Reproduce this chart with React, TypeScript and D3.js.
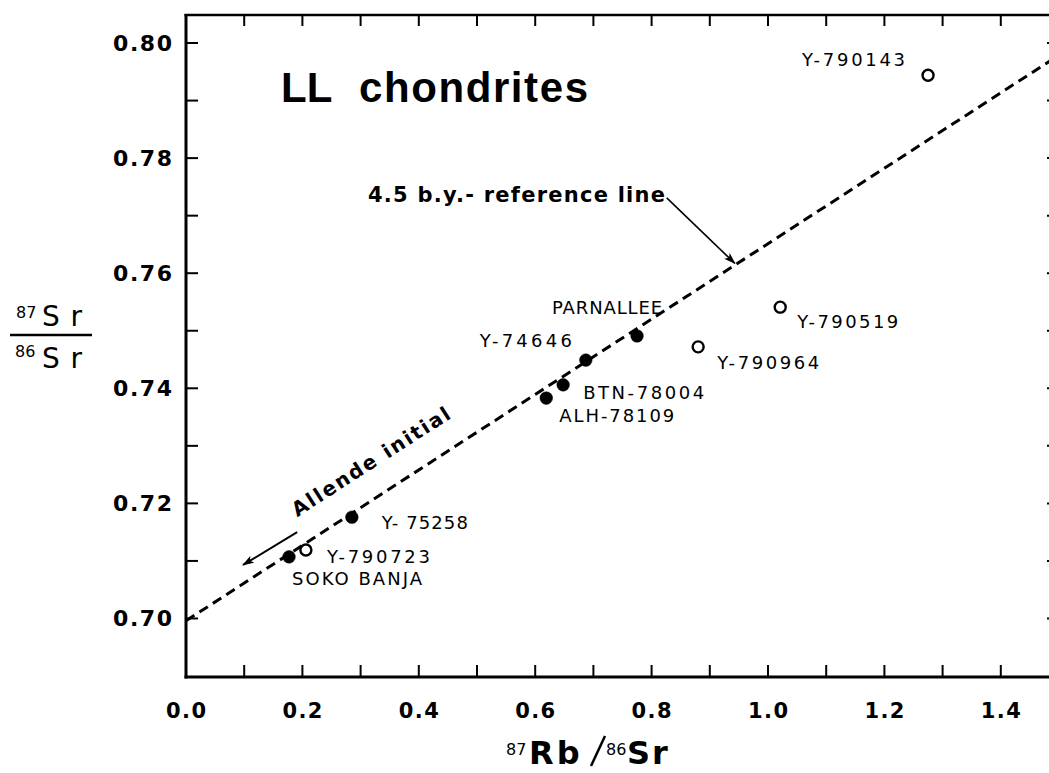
import { useEffect, useRef } from "react";
import * as d3 from "d3";

const W = 1049;
const H = 773;
const FONT = "'DejaVu Sans', 'Liberation Sans', Arial, sans-serif";
const TITLE_FONT = "'Liberation Sans', Arial, Helvetica, sans-serif";

// ==== DATA ====

// filled circles
const FILLED_NAMES = ["SOKO BANJA", "Y- 75258", "ALH-78109", "BTN-78004", "Y-74646", "PARNALLEE"];
const FILLED_RB = [0.177, 0.285, 0.619, 0.648, 0.687, 0.775];
const FILLED_SR = [0.7107, 0.7176, 0.7383, 0.7406, 0.7449, 0.7491];

// open circles
const OPEN_NAMES = ["Y-790723", "Y-790964", "Y-790519", "Y-790143"];
const OPEN_RB = [0.206, 0.88, 1.021, 1.275];
const OPEN_SR = [0.7119, 0.7472, 0.7541, 0.7944];

// 4.5 b.y. reference line end points
const REF_RB = [0, 1.5];
const REF_SR = [0.6996, 0.7979];

const X_TICKS = d3.range(0, 16).map((i) => i / 10);
const X_LABELS = ["0.0", "0.2", "0.4", "0.6", "0.8", "1.0", "1.2", "1.4"];
const Y_TICKS = d3.range(69, 81).map((i) => i / 100);
const Y_LABELS = ["0.70", "0.72", "0.74", "0.76", "0.78", "0.80"];

// label placement: [dx, dy, anchor, text width]
const LABEL_POS: Record<string, [number, number, string, number]> = {
  "SOKO BANJA": [3, 28, "start", 130],
  "Y- 75258": [30, 12, "start", 86],
  "ALH-78109": [13, 24, "start", 115],
  "BTN-78004": [20, 14, "start", 121],
  "Y-74646": [-14, -13, "end", 92],
  "PARNALLEE": [25, -22, "end", 110],
  "Y-790723": [21, 13, "start", 103],
  "Y-790964": [19, 22, "start", 102],
  "Y-790519": [17, 21, "start", 101],
  "Y-790143": [-23, -9, "end", 103],
};

export default function App() {
  const svgRef = useRef<SVGSVGElement | null>(null);

  useEffect(() => {
    const svg = d3.select(svgRef.current);
    svg.selectAll("*").remove();

    const margin = { top: 15, right: W - 1059, bottom: H - 677, left: 186 };
    const x = d3.scaleLinear().domain([0, 1.5]).range([margin.left, W - margin.right]);
    const y = d3.scaleLinear().domain([0.68983, 0.80487]).range([H - margin.bottom, margin.top]);

    const x0 = x(0);
    const x1 = x(1.5);
    const yb = y(0.68983);
    const yt = y(0.80487);

    svg.append("rect").attr("width", W).attr("height", H).attr("fill", "#fff");

    const defs = svg.append("defs");
    defs
      .append("marker")
      .attr("id", "arr")
      .attr("viewBox", "0 0 12 8")
      .attr("refX", 11)
      .attr("refY", 4)
      .attr("markerWidth", 12)
      .attr("markerHeight", 8)
      .attr("markerUnits", "userSpaceOnUse")
      .attr("orient", "auto")
      .append("path")
      .attr("d", "M0,0 L12,4 L0,8 L3,4 z")
      .attr("fill", "#000");
    defs
      .append("clipPath")
      .attr("id", "plotClip")
      .append("rect")
      .attr("x", x0)
      .attr("y", yt)
      .attr("width", x1 - x0)
      .attr("height", yb - yt);

    // frame
    const frame = svg.append("g").attr("stroke", "#000").attr("fill", "none");
    frame.append("line").attr("x1", x0).attr("x2", x0).attr("y1", yt - 1).attr("y2", yb + 1.5).attr("stroke-width", 3);
    frame.append("line").attr("x1", x0 - 1.5).attr("x2", x1).attr("y1", yb).attr("y2", yb).attr("stroke-width", 3);
    frame.append("line").attr("x1", x0 - 1.5).attr("x2", x1).attr("y1", yt).attr("y2", yt).attr("stroke-width", 2.5);
    frame.append("line").attr("x1", x1).attr("x2", x1).attr("y1", yt).attr("y2", yb).attr("stroke-width", 3);

    // ticks
    const tl = 12;
    frame
      .selectAll("line.xb")
      .data(X_TICKS.slice(1))
      .join("line")
      .attr("class", "xb")
      .attr("x1", (d) => x(d))
      .attr("x2", (d) => x(d))
      .attr("y1", yb)
      .attr("y2", yb - tl)
      .attr("stroke-width", 2);
    frame
      .selectAll("line.xt")
      .data(X_TICKS.slice(1))
      .join("line")
      .attr("class", "xt")
      .attr("x1", (d) => x(d))
      .attr("x2", (d) => x(d))
      .attr("y1", yt)
      .attr("y2", yt + 11)
      .attr("stroke-width", 2);
    frame
      .selectAll("line.yl")
      .data(Y_TICKS.slice(1))
      .join("line")
      .attr("class", "yl")
      .attr("x1", x0)
      .attr("x2", x0 + tl)
      .attr("y1", (d) => y(d))
      .attr("y2", (d) => y(d))
      .attr("stroke-width", 2);
    frame
      .selectAll("line.yr")
      .data(Y_TICKS.slice(1))
      .join("line")
      .attr("class", "yr")
      .attr("x1", x1)
      .attr("x2", x1 - tl)
      .attr("y1", (d) => y(d))
      .attr("y2", (d) => y(d))
      .attr("stroke-width", 2);

    // tick labels
    svg
      .append("g")
      .selectAll("text")
      .data(X_LABELS)
      .join("text")
      .attr("x", (d) => x(+d))
      .attr("y", 718)
      .attr("text-anchor", "middle")
      .attr("font-family", FONT)
      .attr("font-weight", "bold")
      .attr("font-size", 21)
      .attr("textLength", 40)
      .attr("lengthAdjust", "spacing")
      .text((d) => d);
    svg
      .append("g")
      .selectAll("text")
      .data(Y_LABELS)
      .join("text")
      .attr("x", 172)
      .attr("y", (d) => y(+d) + 8)
      .attr("text-anchor", "end")
      .attr("font-family", FONT)
      .attr("font-weight", "bold")
      .attr("font-size", 22)
      .attr("textLength", 59)
      .attr("lengthAdjust", "spacing")
      .text((d) => d);

    // reference line
    const line = d3
      .line<number>()
      .x((d) => x(d))
      .y((_, i) => y(REF_SR[i]));
    svg
      .append("path")
      .attr("clip-path", "url(#plotClip)")
      .attr("d", line(REF_RB))
      .attr("fill", "none")
      .attr("stroke", "#000")
      .attr("stroke-width", 3)
      .attr("stroke-dasharray", "10 6");

    // points
    const filled = FILLED_NAMES.map((n, i) => ({ name: n, rb: FILLED_RB[i], sr: FILLED_SR[i], open: false }));
    const open = OPEN_NAMES.map((n, i) => ({ name: n, rb: OPEN_RB[i], sr: OPEN_SR[i], open: true }));
    const pts = [...filled, ...open];

    svg
      .append("g")
      .selectAll("circle")
      .data(pts)
      .join("circle")
      .attr("cx", (d) => x(d.rb))
      .attr("cy", (d) => y(d.sr))
      .attr("r", (d) => (d.open ? 5.5 : 6.3))
      .attr("fill", (d) => (d.open ? "#fff" : "#000"))
      .attr("stroke", "#000")
      .attr("stroke-width", (d) => (d.open ? 2.4 : 0.5));

    svg
      .append("g")
      .selectAll("text")
      .data(pts)
      .join("text")
      .attr("x", (d) => x(d.rb) + LABEL_POS[d.name][0])
      .attr("y", (d) => y(d.sr) + LABEL_POS[d.name][1])
      .attr("text-anchor", (d) => LABEL_POS[d.name][2])
      .attr("textLength", (d) => LABEL_POS[d.name][3])
      .attr("lengthAdjust", "spacing")
      .attr("font-family", FONT)
      .attr("font-size", 18)
      .text((d) => d.name);

    // title
    const title = svg.append("g").attr("font-family", TITLE_FONT).attr("font-weight", "bold").attr("font-size", 42);
    title.append("text").attr("x", 281).attr("y", 102).text("LL");
    title.append("text").attr("x", 359).attr("y", 102).attr("textLength", 229).attr("lengthAdjust", "spacing").text("chondrites");

    // reference line annotation
    svg
      .append("text")
      .attr("x", 368)
      .attr("y", 202)
      .attr("font-family", FONT)
      .attr("font-weight", "bold")
      .attr("font-size", 21)
      .attr("textLength", 297)
      .attr("lengthAdjust", "spacing")
      .text("4.5 b.y.- reference line");
    svg
      .append("line")
      .attr("x1", x(0.826))
      .attr("y1", y(0.7731))
      .attr("x2", x(0.943))
      .attr("y2", y(0.7617))
      .attr("stroke", "#000")
      .attr("stroke-width", 1.6)
      .attr("marker-end", "url(#arr)");

    // Allende initial
    const ax = x(0.191);
    const ay = y(0.7176);
    svg
      .append("text")
      .attr("transform", `translate(${ax},${ay}) rotate(-32.7)`)
      .attr("font-family", FONT)
      .attr("font-weight", "bold")
      .attr("font-size", 20)
      .attr("textLength", 184)
      .attr("lengthAdjust", "spacing")
      .text("Allende initial");
    svg
      .append("line")
      .attr("x1", x(0.191))
      .attr("y1", y(0.715))
      .attr("x2", x(0.098))
      .attr("y2", y(0.7093))
      .attr("stroke", "#000")
      .attr("stroke-width", 2)
      .attr("marker-end", "url(#arr)");

    // y axis title
    const yt1 = svg.append("g").attr("font-family", FONT).attr("fill", "#000");
    yt1.append("text").attr("x", 16).attr("y", 318).attr("font-size", 16).text("87");
    yt1.append("text").attr("x", 42).attr("y", 326).attr("font-size", 28).attr("textLength", 40).attr("lengthAdjust", "spacing").text("Sr");
    yt1.append("line").attr("x1", 10).attr("x2", 92).attr("y1", 335).attr("y2", 335).attr("stroke", "#000").attr("stroke-width", 2.5);
    yt1.append("text").attr("x", 15).attr("y", 357).attr("font-size", 16).text("86");
    yt1.append("text").attr("x", 42).attr("y", 368).attr("font-size", 28).attr("textLength", 40).attr("lengthAdjust", "spacing").text("Sr");

    // x axis title
    const xt = svg.append("g").attr("font-family", FONT).attr("fill", "#000");
    xt.append("text").attr("x", 506).attr("y", 755).attr("font-size", 16).text("87");
    xt.append("text").attr("x", 529).attr("y", 764).attr("font-size", 32).attr("font-weight", "bold").attr("letter-spacing", 3).text("Rb");
    xt.append("line").attr("x1", 591).attr("y1", 766).attr("x2", 605).attr("y2", 736).attr("stroke", "#000").attr("stroke-width", 2.5);
    xt.append("text").attr("x", 606).attr("y", 755).attr("font-size", 16).text("86");
    xt.append("text").attr("x", 627).attr("y", 764).attr("font-size", 32).attr("font-weight", "bold").attr("letter-spacing", 2).text("Sr");
  }, []);

  return (
    <svg
      ref={svgRef}
      width={W}
      height={H}
      style={{ position: "absolute", left: 0, top: 0, display: "block" }}
    />
  );
}
